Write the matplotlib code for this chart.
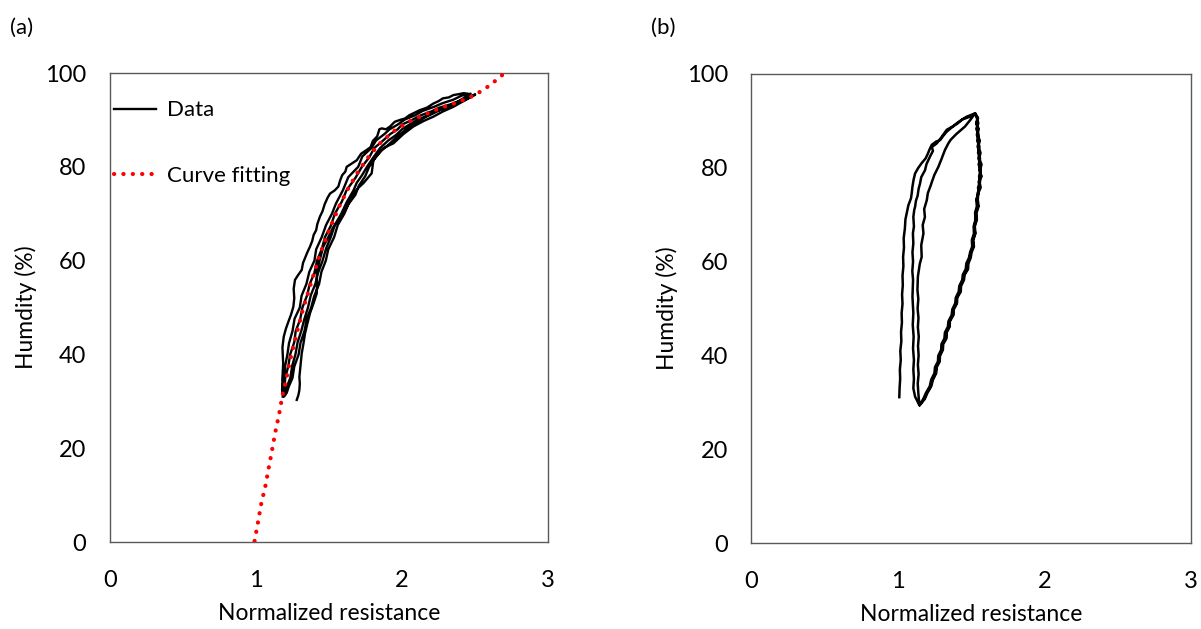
import matplotlib
matplotlib.use("Agg")
import matplotlib.pyplot as plt

plt.rcParams['font.family'] = ['Lato', 'DejaVu Sans']

# ---------------- Panel (a) data: hysteresis loops (normalized resistance, humidity) -------------
a_up1_R = [1.183, 1.180, 1.186, 1.181, 1.190, 1.205, 1.222, 1.240, 1.256, 1.262, 1.258, 1.267, 1.290, 1.313, 1.322, 1.335,
           1.352, 1.370, 1.385, 1.395, 1.412, 1.420, 1.438, 1.455, 1.470, 1.490, 1.507, 1.540, 1.564, 1.575, 1.590, 1.612, 1.621, 1.650,
           1.690, 1.720, 1.758, 1.785, 1.800, 1.830, 1.845, 1.861, 1.890, 1.918, 1.950, 1.986, 2.020, 2.050, 2.090, 2.123, 2.170, 2.215,
           2.250, 2.280, 2.320, 2.352, 2.390, 2.420, 2.450, 2.477]
a_up1_H = [31.0, 34.5, 38.0, 41.5, 43.8, 45.5, 47.0, 48.5, 50.2, 52.0, 54.0, 55.9, 57.0, 58.0, 59.5, 60.5,
           61.8, 63.0, 64.2, 65.5, 66.5, 67.8, 69.4, 70.5, 72.0, 73.4, 74.3, 75.0, 75.8, 77.0, 78.2, 79.0, 80.0, 80.6,
           81.4, 82.8, 83.6, 84.2, 85.5, 86.5, 88.0, 88.2, 88.0, 88.6, 89.6, 90.0, 90.3, 91.0, 91.6, 92.1, 92.6, 93.5,
           94.0, 94.6, 94.8, 95.3, 95.5, 95.7, 95.6, 95.0]

a_down2_R = [2.477, 2.430, 2.380, 2.300, 2.240, 2.180, 2.110, 2.050, 2.000, 1.960, 1.905, 1.850,
             1.808, 1.760, 1.728, 1.690, 1.668, 1.620, 1.584, 1.540, 1.512, 1.480, 1.456, 1.425,
             1.406, 1.375, 1.356, 1.330, 1.310, 1.285, 1.270, 1.248, 1.235, 1.215, 1.205, 1.190]
a_down2_H = [95.0, 94.2, 93.6, 92.6, 91.9, 91.0, 90.1, 89.0, 88.0, 86.8, 85.6, 84.0,
             82.2, 80.0, 78.3, 76.6, 75.0, 72.4, 70.0, 67.6, 65.0, 62.6, 60.0, 57.4,
             55.0, 52.6, 50.0, 47.4, 45.0, 42.6, 40.0, 37.6, 35.0, 33.4, 32.0, 31.2]

a_up2_R = [1.190, 1.178, 1.192, 1.200, 1.215, 1.226, 1.250, 1.264, 1.300, 1.312, 1.345, 1.365,
           1.400, 1.412, 1.450, 1.480, 1.520, 1.548, 1.595, 1.632, 1.700, 1.728, 1.790, 1.822,
           1.880, 1.915, 1.970, 2.020, 2.090, 2.140, 2.220, 2.280, 2.350, 2.410, 2.470]
a_up2_H = [31.2, 32.5, 35.0, 37.6, 40.0, 42.4, 45.0, 47.6, 50.0, 52.5, 55.0, 57.6,
           60.0, 62.4, 65.0, 67.6, 70.0, 72.2, 75.0, 77.8, 80.0, 82.2, 84.0, 85.6,
           87.0, 88.0, 89.0, 90.1, 91.0, 91.9, 92.8, 93.6, 94.3, 95.2, 95.6]

a_down3_R = [2.470, 2.420, 2.360, 2.290, 2.220, 2.160, 2.100, 2.040, 1.990, 1.945, 1.900, 1.855,
             1.818, 1.775, 1.748, 1.705, 1.680, 1.632, 1.605, 1.560, 1.535, 1.495, 1.478, 1.448,
             1.432, 1.398, 1.378, 1.348, 1.332, 1.305, 1.292, 1.262, 1.250, 1.225, 1.210, 1.192]
a_down3_H = [95.6, 94.6, 93.5, 92.6, 91.5, 90.6, 89.5, 88.3, 87.0, 85.8, 84.5, 83.4,
             82.0, 80.0, 78.0, 76.0, 74.0, 72.0, 70.0, 67.6, 65.0, 62.4, 60.0, 57.6,
             55.0, 52.4, 50.0, 47.6, 45.0, 42.5, 40.0, 37.4, 35.0, 33.2, 31.8, 31.0]

a_up3_R = [1.192, 1.196, 1.200, 1.222, 1.234, 1.262, 1.272, 1.302, 1.318, 1.350, 1.368, 1.400,
           1.418, 1.452, 1.472, 1.512, 1.540, 1.588, 1.620, 1.680, 1.725, 1.775, 1.810, 1.870,
           1.920, 1.970, 2.000, 2.075, 2.130, 2.200, 2.255, 2.330, 2.390, 2.450, 2.500]
a_up3_H = [31.0, 33.0, 35.0, 37.6, 40.0, 42.6, 45.0, 47.4, 50.0, 52.6, 55.0, 57.4,
           60.0, 62.6, 65.0, 67.4, 70.0, 72.6, 75.0, 77.6, 80.0, 82.0, 84.0, 85.6,
           87.0, 88.0, 89.0, 90.1, 91.0, 91.8, 92.6, 93.3, 94.0, 94.8, 95.3]

a_down1_R = [2.500, 2.477, 2.420, 2.352, 2.280, 2.215, 2.150, 2.078, 2.010, 1.941, 1.905, 1.872,
             1.840, 1.804, 1.798, 1.792, 1.765, 1.735, 1.700, 1.667, 1.635, 1.598, 1.565, 1.530,
             1.495, 1.461, 1.440, 1.425, 1.416, 1.418, 1.416, 1.395, 1.370, 1.352, 1.336, 1.325,
             1.313, 1.305, 1.297, 1.300, 1.297, 1.290, 1.279]
a_down1_H = [95.5, 95.0, 94.0, 92.8, 91.8, 90.7, 89.8, 88.6, 87.0, 85.0, 84.5, 83.9,
             82.8, 81.4, 80.0, 78.6, 77.6, 76.5, 75.5, 74.3, 72.2, 70.1, 68.6, 67.2,
             65.0, 63.0, 60.5, 58.8, 57.3, 55.0, 53.0, 51.0, 48.8, 46.6, 44.5, 42.3,
             40.2, 37.8, 35.2, 33.8, 32.4, 31.3, 30.3]

# ---------------- Panel (a) fitted curve -------------
fit_R = [0.990, 1.014, 1.036, 1.064, 1.087, 1.110, 1.132, 1.158, 1.180, 1.208, 1.233, 1.262,
         1.292, 1.324, 1.361, 1.397, 1.434, 1.479, 1.525, 1.575, 1.630, 1.692, 1.765, 1.842,
         1.934, 2.039, 2.151, 2.267, 2.386, 2.500, 2.603, 2.699, 2.720]
fit_H = [0.2, 4.3, 8.2, 11.9, 15.8, 19.6, 23.4, 27.2, 31.1, 34.8, 38.7, 42.4,
         46.1, 49.9, 53.6, 57.3, 61.0, 64.8, 68.3, 71.9, 75.3, 78.6, 81.9, 84.8,
         87.4, 89.5, 91.1, 92.6, 93.8, 95.3, 97.4, 99.9, 100.5]

# ---------------- Panel (b) data -------------
b_up1_H = [31.1, 33.0, 35.0, 37.0, 39.0, 41.0, 43.0, 45.0, 47.0, 49.0, 51.0, 53.0, 55.0, 57.0,
           59.0, 61.0, 63.0, 65.0, 67.0, 69.0, 70.5, 72.0, 73.5, 74.6, 76.0, 77.5, 78.8, 80.0,
           81.0, 82.0, 83.0, 84.0, 84.9, 85.6, 85.9, 86.8, 87.7, 88.6, 89.5, 90.3, 90.9, 91.6]
b_up1_R = [1.010, 1.012, 1.016, 1.014, 1.020, 1.017, 1.024, 1.022, 1.028, 1.026, 1.032, 1.029,
           1.034, 1.032, 1.038, 1.036, 1.042, 1.040, 1.048, 1.052, 1.062, 1.072, 1.090, 1.095,
           1.100, 1.108, 1.118, 1.140, 1.163, 1.190, 1.205, 1.218, 1.232, 1.262, 1.289, 1.310,
           1.334, 1.368, 1.403, 1.440, 1.471, 1.528]

b_down_H = [91.6, 90.6, 89.5, 88.3, 87.0, 85.8, 84.5, 83.2, 82.0, 80.7, 79.5, 78.2, 77.0, 75.8,
            74.6, 73.2, 71.8, 70.4, 68.9, 67.5, 66.0, 64.6, 63.2, 62.0, 60.8, 59.6, 58.4, 57.2,
            56.1, 54.8, 53.6, 52.3, 51.1, 49.8, 48.6, 47.3, 46.1, 44.9, 43.6, 42.4, 41.2, 39.9,
            38.7, 37.5, 36.2, 34.8, 33.4, 32.0, 30.7, 29.4]
b_down1_R = [1.528, 1.548, 1.538, 1.552, 1.545, 1.560, 1.550, 1.565, 1.556, 1.572, 1.562, 1.568,
             1.552, 1.560, 1.545, 1.540, 1.548, 1.532, 1.535, 1.522, 1.528, 1.512, 1.516, 1.500,
             1.490, 1.478, 1.476, 1.452, 1.448, 1.428, 1.426, 1.402, 1.400, 1.378, 1.376, 1.352,
             1.350, 1.330, 1.328, 1.305, 1.303, 1.285, 1.282, 1.262, 1.258, 1.235, 1.224, 1.198,
             1.180, 1.147]
b_down2_R = [1.528, 1.540, 1.550, 1.536, 1.552, 1.542, 1.558, 1.548, 1.562, 1.552, 1.566, 1.555,
             1.562, 1.548, 1.552, 1.536, 1.540, 1.528, 1.530, 1.518, 1.520, 1.506, 1.508, 1.494,
             1.486, 1.468, 1.464, 1.444, 1.440, 1.420, 1.416, 1.396, 1.392, 1.372, 1.368, 1.346,
             1.342, 1.322, 1.318, 1.298, 1.296, 1.276, 1.274, 1.254, 1.250, 1.228, 1.218, 1.192,
             1.174, 1.147]
b_down3_R = [1.528, 1.545, 1.535, 1.548, 1.540, 1.555, 1.545, 1.560, 1.550, 1.566, 1.556, 1.572,
             1.558, 1.566, 1.550, 1.546, 1.552, 1.538, 1.540, 1.526, 1.530, 1.516, 1.520, 1.504,
             1.498, 1.482, 1.480, 1.456, 1.452, 1.432, 1.430, 1.406, 1.404, 1.382, 1.380, 1.356,
             1.354, 1.334, 1.332, 1.310, 1.308, 1.288, 1.286, 1.266, 1.262, 1.240, 1.228, 1.202,
             1.184, 1.150]

b_up2_H = [29.4, 31.2, 33.0, 35.0, 37.0, 39.0, 41.5, 44.0, 46.5, 49.0, 52.5, 56.1, 58.0, 60.0,
           62.0, 63.9, 66.0, 67.5, 69.5, 71.0, 71.7, 73.0, 74.0, 75.5, 76.7, 78.0, 79.5, 80.8,
           82.4, 83.6, 84.4, 85.2, 86.6, 88.1, 88.9, 89.5, 90.3, 90.9, 91.6]
b_up2_R = [1.147, 1.118, 1.106, 1.110, 1.106, 1.110, 1.104, 1.108, 1.102, 1.106, 1.100, 1.104,
           1.099, 1.104, 1.100, 1.106, 1.103, 1.110, 1.106, 1.112, 1.118, 1.124, 1.135, 1.142,
           1.152, 1.160, 1.186, 1.196, 1.220, 1.240, 1.232, 1.266, 1.300, 1.334, 1.380, 1.410,
           1.440, 1.494, 1.528]

b_up3_H = [29.4, 32.0, 34.0, 36.0, 38.0, 40.0, 42.0, 44.0, 46.0, 48.0, 50.0, 52.0, 54.0, 56.8,
           59.5, 61.0, 63.5, 66.0, 67.8, 69.5, 71.2, 73.1, 74.6, 76.0, 77.2, 78.5, 80.2, 82.0,
           83.8, 85.2, 86.0, 87.2, 88.8, 90.2, 91.6]
b_up3_R = [1.147, 1.140, 1.136, 1.142, 1.137, 1.142, 1.138, 1.143, 1.137, 1.141, 1.135, 1.140,
           1.134, 1.137, 1.150, 1.163, 1.160, 1.175, 1.170, 1.185, 1.180, 1.198, 1.205, 1.222,
           1.235, 1.250, 1.277, 1.300, 1.322, 1.345, 1.362, 1.400, 1.459, 1.495, 1.528]

x_ticks = [0, 1, 2, 3]
y_ticks = [0, 20, 40, 60, 80, 100]
x_label = "Normalized resistance"
y_label = "Humdity (%)"

fig = plt.figure(figsize=(12.01, 6.29), dpi=100)
axA = fig.add_axes([0.0916, 0.1383, 0.3647, 0.7456])
axB = fig.add_axes([0.6257, 0.1367, 0.3656, 0.7457])

FS = 16.5
spine_col = '#595959'

def style(ax):
    ax.set_xlim(0, 3)
    ax.set_ylim(0, 100)
    ax.set_xticks(x_ticks)
    ax.set_yticks(y_ticks)
    ax.tick_params(axis='x', length=0, labelsize=17, pad=20)
    ax.tick_params(axis='y', length=0, labelsize=17, pad=17)
    for s in ax.spines.values():
        s.set_color(spine_col)
        s.set_linewidth(1.0)
    ax.set_xlabel(x_label, fontsize=FS, labelpad=9)
    ax.set_ylabel(y_label, fontsize=FS, labelpad=6)

def path(branches):
    R, H = [], []
    for r, h in branches:
        R += list(r)
        H += list(h)
    return R, H

aR, aH = path([(a_up1_R, a_up1_H), (a_down2_R, a_down2_H), (a_up2_R, a_up2_H),
               (a_down3_R, a_down3_H), (a_up3_R, a_up3_H), (a_down1_R, a_down1_H)])
axA.plot(aR, aH, color='black', lw=1.7, label='Data', zorder=2)
axA.plot(fit_R, fit_H, color='#ff0000', lw=3.0, linestyle=(0, (0.05, 2.2)),
         dash_capstyle='round', label='Curve fitting', zorder=3)
style(axA)
axA.legend(loc='upper left', frameon=False, fontsize=16, labelspacing=2.05,
           handlelength=1.85, handletextpad=0.5, borderpad=0.2, borderaxespad=0.0,
           bbox_to_anchor=(0.0, 0.951))

bR, bH = path([(b_up1_R, b_up1_H), (b_down1_R, b_down_H), (b_up2_R, b_up2_H),
               (b_down2_R, b_down_H), (b_up3_R, b_up3_H), (b_down3_R, b_down_H)])
axB.plot(bR, bH, color='black', lw=1.8, zorder=2)
style(axB)

fig.text(10 / 1201, 1 - 28 / 629, "(a)", fontsize=16, va='center', ha='left')
fig.text(651 / 1201, 1 - 28 / 629, "(b)", fontsize=16, va='center', ha='left')

fig.savefig("out.png", dpi=100)
